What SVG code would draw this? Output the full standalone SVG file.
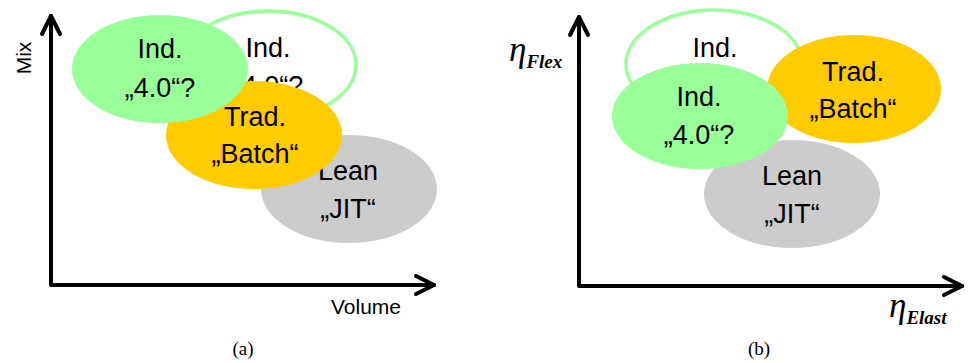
<svg xmlns="http://www.w3.org/2000/svg" width="970" height="363" viewBox="0 0 970 363">
  <defs>
    <style>
      .axis { fill: none; stroke: #000; stroke-width: 4; stroke-linecap: round; stroke-linejoin: round; }
      .lbl { font-family: "Liberation Sans", Arial, sans-serif; font-size: 27px; fill: #000; text-anchor: middle; }
      .ax { font-family: "Liberation Sans", Arial, sans-serif; font-size: 21px; fill: #000; }
      .cap { font-family: "Liberation Serif", "Times New Roman", serif; font-size: 19px; fill: #000; text-anchor: middle; }
      .eta { font-family: "Liberation Serif", "Times New Roman", serif; font-style: italic; fill: #000; }
      .ind-open { fill: #fff; stroke: #99FF99; stroke-width: 3.5; }
      .ind { fill: #99FF99; }
      .trad { fill: #FFCC00; }
      .lean { fill: #CCCCCC; }
    </style>
  </defs>
  <rect width="970" height="363" fill="#fff"/>

  <!-- Panel (a): Mix over Volume -->
  <g id="a-axes">
    <polyline class="axis" points="51,16 51,285 434,285"/>
    <polyline class="axis" points="42,34 51,16 60,34"/>
    <polyline class="axis" points="416,276 434,285 416,294"/>
    <text class="ax" transform="translate(31,58) rotate(-90)" text-anchor="middle">Mix</text>
    <text class="ax" x="366" y="314" text-anchor="middle">Volume</text>
    <text class="cap" x="243" y="355">(a)</text>
  </g>
  <g id="a-ind-open">
    <ellipse class="ind-open" cx="268" cy="65" rx="88" ry="54"/>
    <text class="lbl" x="268" y="57">Ind.</text>
    <text class="lbl" x="268" y="95">„4.0“?</text>
  </g>
  <g id="a-lean">
    <ellipse class="lean" cx="349" cy="189" rx="88" ry="54"/>
    <text class="lbl" x="348" y="180">Lean</text>
    <text class="lbl" x="348" y="218">„JIT“</text>
  </g>
  <g id="a-trad">
    <ellipse class="trad" cx="254" cy="135" rx="88" ry="54"/>
    <text class="lbl" x="255" y="126">Trad.</text>
    <text class="lbl" x="255" y="163">„Batch“</text>
  </g>
  <g id="a-ind">
    <ellipse class="ind" cx="160" cy="69" rx="88" ry="54"/>
    <text class="lbl" x="160" y="58">Ind.</text>
    <text class="lbl" x="160" y="97">„4.0“?</text>
  </g>

  <!-- Panel (b): flexibility over elasticity -->
  <g id="b-axes">
    <polyline class="axis" points="579,17 579,286 962,286"/>
    <polyline class="axis" points="570,35 579,17 588,35"/>
    <polyline class="axis" points="944,277 962,286 944,295"/>
    <text class="eta" x="509" y="61" font-size="35">η<tspan font-size="19" font-weight="bold" dy="7">Flex</tspan></text>
    <text class="eta" x="889" y="317" font-size="35">η<tspan font-size="19" font-weight="bold" dy="7">Elast</tspan></text>
    <text class="cap" x="759" y="355">(b)</text>
  </g>
  <g id="b-ind-open">
    <ellipse class="ind-open" cx="714" cy="64" rx="88" ry="54"/>
    <text class="lbl" x="715" y="57">Ind.</text>
  </g>
  <g id="b-lean">
    <ellipse class="lean" cx="792" cy="194" rx="88" ry="54"/>
    <text class="lbl" x="792" y="185">Lean</text>
    <text class="lbl" x="792" y="223">„JIT“</text>
  </g>
  <g id="b-trad">
    <ellipse class="trad" cx="854" cy="89" rx="87" ry="54"/>
    <text class="lbl" x="853" y="81">Trad.</text>
    <text class="lbl" x="853" y="118">„Batch“</text>
  </g>
  <g id="b-ind">
    <ellipse class="ind" cx="700" cy="116" rx="88" ry="53"/>
    <text class="lbl" x="699" y="106">Ind.</text>
    <text class="lbl" x="699" y="144">„4.0“?</text>
  </g>
</svg>
